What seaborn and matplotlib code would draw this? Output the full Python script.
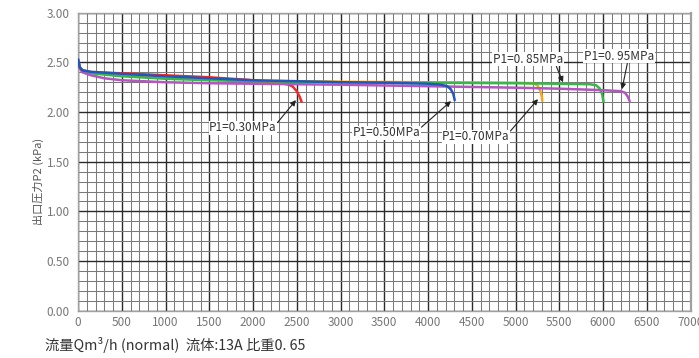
import matplotlib
matplotlib.use("Agg")
import matplotlib.pyplot as plt
from matplotlib.ticker import MultipleLocator, FormatStrFormatter
import seaborn as sns
import pandas as pd

# ---- data ----
series_names = ["P1=0.30MPa", "P1=0.50MPa", "P1=0.70MPa", "P1=0.85MPa", "P1=0.95MPa"]

flow_030 = [0, 20, 50, 150, 500, 1000, 1500, 2000, 2300, 2390, 2450, 2500, 2530, 2555]
p2_030 = [2.53, 2.45, 2.42, 2.40, 2.39, 2.37, 2.35, 2.32, 2.29, 2.28, 2.26, 2.21, 2.16, 2.105]

flow_050 = [0, 20, 50, 150, 500, 1000, 1500, 2000, 2500, 3000, 3500, 4000, 4150, 4220, 4260, 4290, 4305]
p2_050 = [2.53, 2.45, 2.42, 2.405, 2.385, 2.36, 2.34, 2.32, 2.31, 2.30, 2.295, 2.285, 2.275, 2.26, 2.23, 2.18, 2.12]

flow_070 = [0, 20, 50, 150, 500, 1000, 1500, 2000, 3000, 4000, 5000, 5200, 5250, 5280, 5300, 5305]
p2_070 = [2.53, 2.45, 2.42, 2.395, 2.375, 2.35, 2.33, 2.315, 2.305, 2.30, 2.295, 2.29, 2.27, 2.22, 2.16, 2.115]

flow_085 = [0, 20, 50, 150, 500, 1000, 1500, 2000, 3000, 4000, 5000, 5500, 5850, 5920, 5960, 5990, 6005]
p2_085 = [2.53, 2.45, 2.42, 2.39, 2.36, 2.335, 2.32, 2.31, 2.30, 2.295, 2.29, 2.285, 2.28, 2.27, 2.24, 2.18, 2.105]

flow_095 = [0, 20, 50, 150, 300, 500, 1000, 1500, 2000, 3000, 4000, 5000, 5500, 6000, 6200, 6250, 6280, 6305]
p2_095 = [2.53, 2.44, 2.40, 2.37, 2.34, 2.32, 2.30, 2.29, 2.285, 2.275, 2.26, 2.245, 2.235, 2.22, 2.21, 2.195, 2.16, 2.11]

colors = {
    "P1=0.30MPa": "#ee2b2b",
    "P1=0.50MPa": "#2456b8",
    "P1=0.70MPa": "#f5a623",
    "P1=0.85MPa": "#3bb54a",
    "P1=0.95MPa": "#b157bd",
}
draw_order = ["P1=0.30MPa", "P1=0.70MPa", "P1=0.85MPa", "P1=0.95MPa", "P1=0.50MPa"]

annot_labels = ["P1=0.30MPa", "P1=0.50MPa", "P1=0.70MPa", "P1=0. 85MPa", "P1=0. 95MPa"]

xlabel = "流量Qm³/h (normal)  流体:13A 比重0. 65"
ylabel = "出口圧力P2 (kPa)"

# ---- build frame ----
flows = [flow_030, flow_050, flow_070, flow_085, flow_095]
p2s = [p2_030, p2_050, p2_070, p2_085, p2_095]
rows = []
for name, fx, py in zip(series_names, flows, p2s):
    for i, (a, b) in enumerate(zip(fx, py)):
        rows.append({"series": name, "flow": a, "p2": b, "order": i})
df = pd.DataFrame(rows)

sns.set_theme(style="white")
plt.rcParams["font.family"] = ["Noto Sans CJK JP", "DejaVu Sans"]

fig = plt.figure(figsize=(6.99, 3.58), dpi=100)
ax = fig.add_axes([78 / 699, 1 - 310.7 / 358, (690.5 - 78) / 699, (310.7 - 12.7) / 358])

for name in draw_order:
    sub = df[df["series"] == name].sort_values("order")
    sns.lineplot(data=sub, x="flow", y="p2", color=colors[name], lw=1.8,
                 estimator=None, sort=False, ax=ax, legend=False, zorder=3)

ax.set_xlim(0, 7000)
ax.set_ylim(0, 3.0)
ax.xaxis.set_major_locator(MultipleLocator(500))
ax.xaxis.set_minor_locator(MultipleLocator(100))
ax.yaxis.set_major_locator(MultipleLocator(0.5))
ax.yaxis.set_minor_locator(MultipleLocator(0.1))
ax.yaxis.set_major_formatter(FormatStrFormatter("%.2f"))
ax.grid(which="minor", color="#7a7a7a", lw=0.75)
ax.grid(which="major", color="#2a2a2a", lw=1.0)
ax.set_axisbelow(True)
ax.tick_params(which="both", length=0, colors="#777777", labelsize=8.5)
ax.tick_params(axis="y", pad=6)
ax.tick_params(axis="x", pad=4)
for s in ax.spines.values():
    s.set_color("#a0a0a0")
    s.set_linewidth(1.0)
ax.spines["right"].set_linewidth(1.6)
ax.set_xlabel("")
ax.set_ylabel("")

# ---- annotations: (text pos, arrow tip, relpos) ----
annots = [
    ((1886, 1.84), (2491, 2.12), (1.0, 0.85)),
    ((3531, 1.79), (4263, 2.11), (1.0, 0.9)),
    ((4549, 1.75), (5257, 2.13), (1.0, 0.9)),
    ((5143, 2.53), (5543, 2.30), (0.9, 0.0)),
    ((6183, 2.56), (6217, 2.23), (0.62, 0.0)),
]
for lab, (tpos, tip, rp) in zip(annot_labels, annots):
    ax.annotate(lab, xy=tip, xytext=tpos, ha="center", va="center",
                fontsize=8.5, color="#333333",
                bbox=dict(boxstyle="square,pad=0.05", fc="white", ec="none"),
                arrowprops=dict(arrowstyle="-|>", color="#222222", lw=0.8,
                                mutation_scale=8, relpos=rp, shrinkA=0, shrinkB=0),
                zorder=5)

fig.text(38 / 699, 1 - 181 / 358, ylabel, rotation=90, ha="center", va="center",
         fontsize=8, color="#555555")
fig.text(45 / 699, 1 - 345 / 358, xlabel, ha="left", va="center",
         fontsize=10.3, color="#333333")

fig.savefig("out.png", dpi=100)
